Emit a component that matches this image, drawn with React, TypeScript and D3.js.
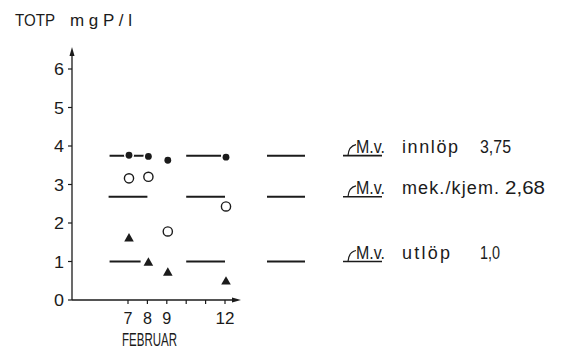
import { useMemo } from "react";
import * as d3 from "d3";

const WIDTH = 563;
const HEIGHT = 352;
const INK = "#1b1b1b";
const FONT = "'Liberation Sans', Arial, sans-serif";

// plot frame (pixels)
const X0 = 72;
const X_END = 241;
const Y0 = 300;
const Y6 = 69;

// February days on the x axis
const dayTicks = [7, 8, 9, 10, 11, 12];
const dayLabels = [7, 8, 9, 12];
const yTicks = [0, 1, 2, 3, 4, 5, 6];

// daily values, mg P/l
const days = [7, 8, 9, 12];
const innlop = [3.76, 3.73, 3.63, 3.71];
const mekKjem = [3.16, 3.2, 1.78, 2.43];
const utlop = [1.62, 0.99, 0.73, 0.5];

// mean values (M.v.)
const meanInnlop = 3.75;
const meanMek = 2.68;
const meanUtlop = 1.0;

// spans (in days) the mean bars are drawn over
const innlopSpans = [[6.05, 8.1], [10.0, 11.8]];
const mekSpans = [[6.0, 8.0], [10.0, 12.0]];
const utlopSpans = [[6.05, 7.65], [10.0, 12.0]];

const legendRows = [
  { mean: meanInnlop, word: "innlöp", wordLen: 56, value: "3,75", valueX: 480, valueLen: 31 },
  { mean: meanMek, word: "mek./kjem.", wordLen: 97, value: "2,68", valueX: 505, valueLen: 40 },
  { mean: meanUtlop, word: "utlöp", wordLen: 48, value: "1,0", valueX: 480, valueLen: 20 },
];

export default function App() {
  const { x, y } = useMemo(() => {
    const x = d3.scaleLinear().domain([7, 12]).range([128, 225]);
    const y = d3.scaleLinear().domain([0, 6]).range([Y0, Y6]);
    return { x, y };
  }, []);

  const tri = d3.symbol().type(d3.symbolTriangle).size(40)() as string;

  const spans = (s: number[][], mean: number, key: string) =>
    s.map((d, i) => (
      <line
        key={key + i}
        x1={x(d[0])}
        x2={x(d[1])}
        y1={y(mean)}
        y2={y(mean)}
        stroke={INK}
        strokeWidth={2}
      />
    ));

  return (
    <svg
      width={WIDTH}
      height={HEIGHT}
      style={{ position: "absolute", left: 0, top: 0, background: "#fff" }}
      fontFamily={FONT}
      fill={INK}>
      {/* title */}
      <text x={15} y={26} fontSize={17} textLength={40} lengthAdjust="spacingAndGlyphs">
        TOTP
      </text>
      <text x={70} y={26} fontSize={17} textLength={62} lengthAdjust="spacing">
        mgP/l
      </text>

      {/* y axis */}
      <line x1={X0} x2={X0} y1={Y0} y2={52} stroke={INK} strokeWidth={1.3} />
      <path d={`M${X0},47 L${X0 - 2.5},56 L${X0 + 2.5},56 Z`} fill={INK} />
      {yTicks.map((t) => (
        <g key={t}>
          <line x1={X0 - 4} x2={X0} y1={y(t)} y2={y(t)} stroke={INK} strokeWidth={1.2} />
          <text
            x={64}
            y={y(t)}
            dy="0.36em"
            fontSize={17}
            textAnchor="end"
            textLength={10}
            lengthAdjust="spacingAndGlyphs">
            {t}
          </text>
        </g>
      ))}

      {/* x axis */}
      <line x1={X0} x2={X_END - 5} y1={Y0} y2={Y0} stroke={INK} strokeWidth={1.3} />
      <path d={`M${X_END},${Y0} L${X_END - 9},${Y0 - 2.5} L${X_END - 9},${Y0 + 2.5} Z`} fill={INK} />
      {dayTicks.map((d) => (
        <line key={d} x1={x(d)} x2={x(d)} y1={Y0} y2={Y0 + 4} stroke={INK} strokeWidth={1.2} />
      ))}
      {dayLabels.map((d) => (
        <text
          key={d}
          x={x(d)}
          y={324}
          fontSize={17}
          textAnchor="middle"
          textLength={d > 9 ? 19 : 9}
          lengthAdjust="spacingAndGlyphs">
          {d}
        </text>
      ))}
      <text x={122} y={346} fontSize={19} textLength={55} lengthAdjust="spacingAndGlyphs">
        FEBRUAR
      </text>

      {/* mean bars */}
      {spans(innlopSpans, meanInnlop, "i")}
      {spans(mekSpans, meanMek, "m")}
      {spans(utlopSpans, meanUtlop, "u")}

      {/* innlop: small filled dots with a white gap */}
      {days.map((d, i) => (
        <g key={"ci" + d}>
          <circle cx={x(d) + 1} cy={y(innlop[i])} r={5} fill="#fff" />
          <circle cx={x(d) + 1} cy={y(innlop[i])} r={3.4} fill={INK} />
        </g>
      ))}
      {/* mek/kjem: open circles */}
      {days.map((d, i) => (
        <circle key={"cm" + d} cx={x(d) + 1} cy={y(mekKjem[i])} r={4.6} fill="#fff" stroke={INK} strokeWidth={1.4} />
      ))}
      {/* utlop: filled triangles */}
      {days.map((d, i) => (
        <path key={"tu" + d} d={tri} transform={`translate(${x(d) + 1},${y(utlop[i]) + 1})`} fill={INK} />
      ))}

      {/* legend */}
      {legendRows.map((r) => {
        const ly = y(r.mean);
        return (
          <g key={r.word}>
            <line x1={267} x2={305} y1={ly} y2={ly} stroke={INK} strokeWidth={2} />
            <line x1={343} x2={382} y1={ly} y2={ly} stroke={INK} strokeWidth={1.6} />
            <path
              d={`M348,${ly} C348.5,${ly - 7} 351,${ly - 10} 356,${ly - 11}`}
              fill="none"
              stroke={INK}
              strokeWidth={1.2}
            />
            <text x={356} y={ly - 3} fontSize={18} textLength={29} lengthAdjust="spacingAndGlyphs">
              M.v.
            </text>
            <text x={402} y={ly - 3} fontSize={18} textLength={r.wordLen} lengthAdjust="spacing">
              {r.word}
            </text>
            <text x={r.valueX} y={ly - 3} fontSize={18} textLength={r.valueLen} lengthAdjust="spacingAndGlyphs">
              {r.value}
            </text>
          </g>
        );
      })}
    </svg>
  );
}
